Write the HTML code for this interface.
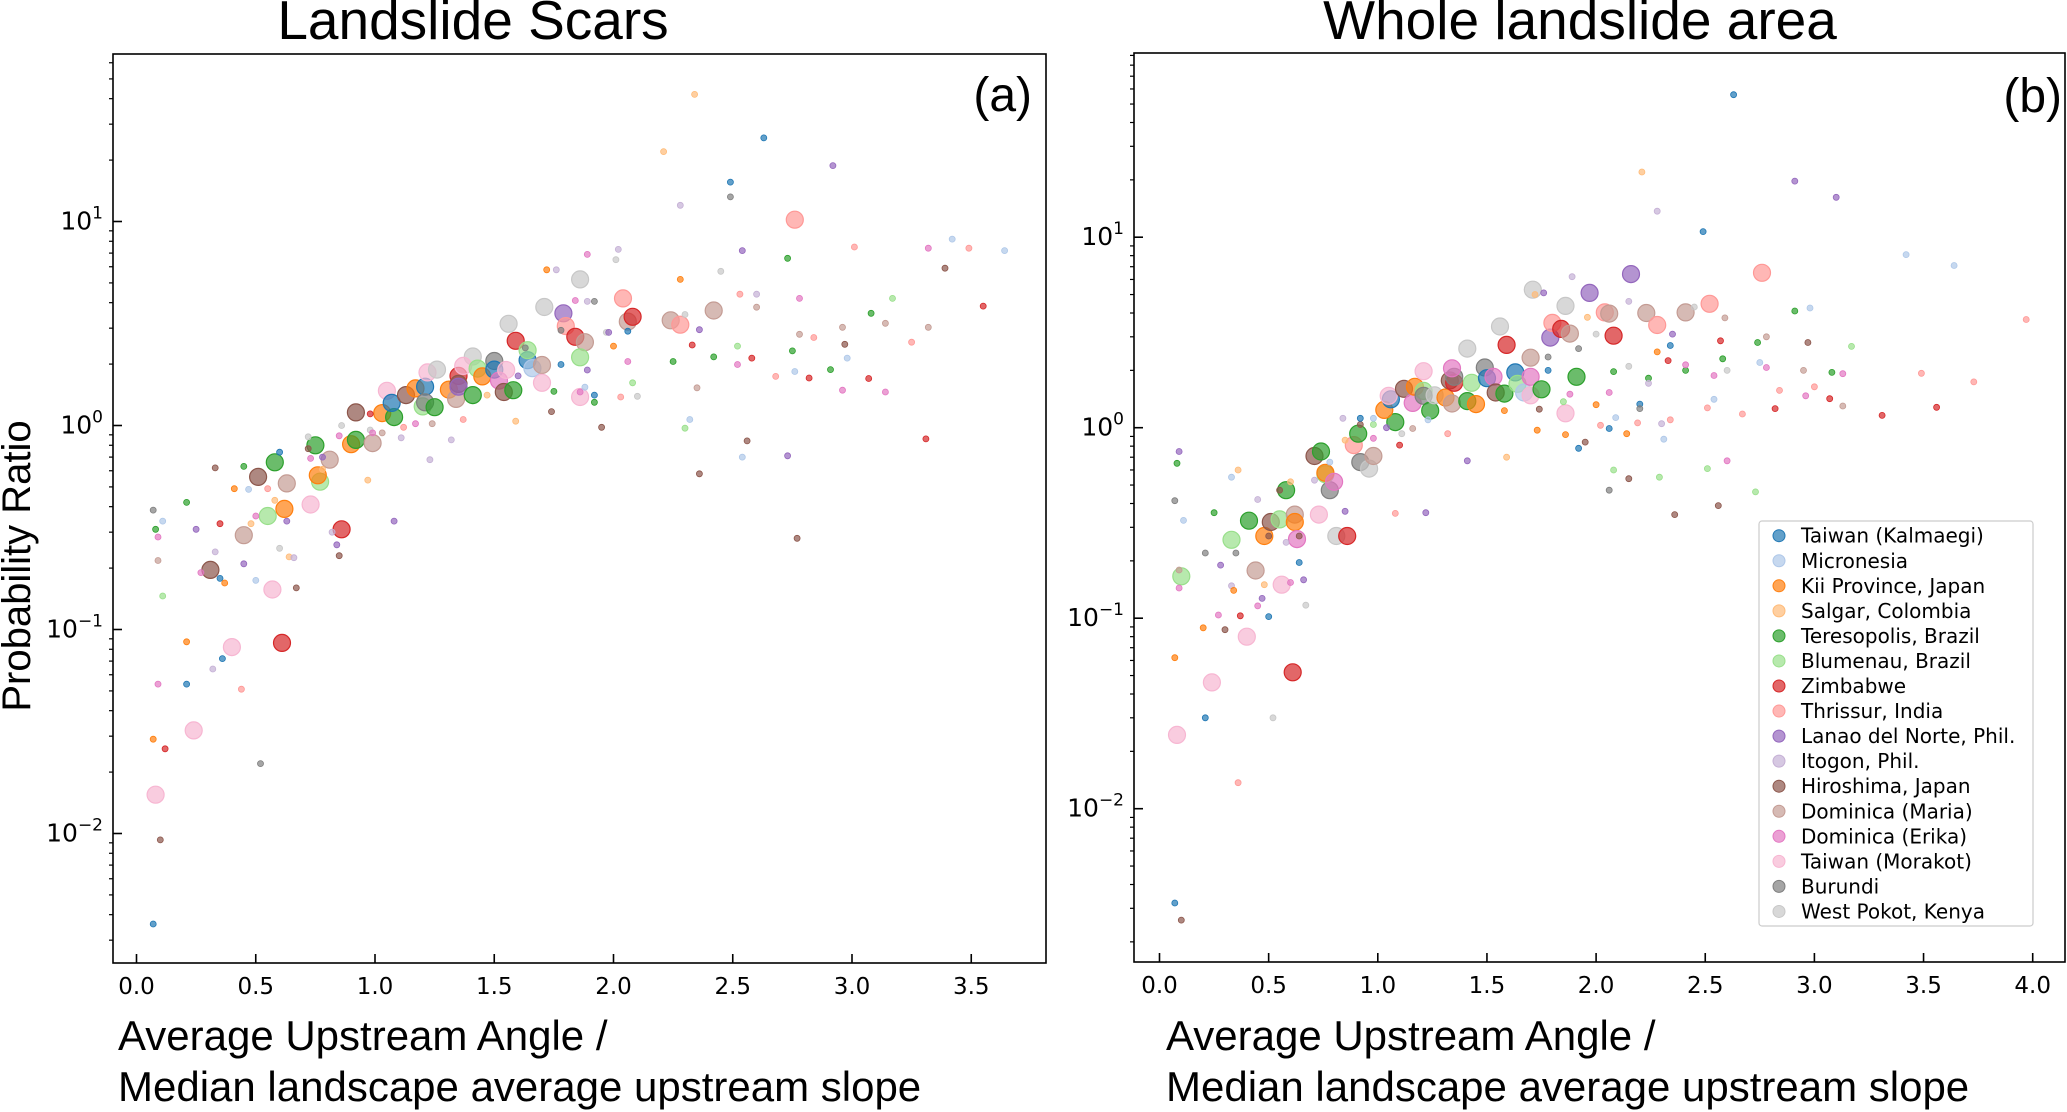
<!DOCTYPE html>
<html><head><meta charset="utf-8"><style>
html,body{margin:0;padding:0;background:#fff;}
svg{display:block;}
</style></head><body>
<svg id="chart" width="2067" height="1112" viewBox="0 0 2067 1112" xmlns="http://www.w3.org/2000/svg">
<text x="473" y="39" font-family="Liberation Sans, sans-serif" font-size="55" text-anchor="middle">Landslide Scars</text>
<text x="1580" y="39" font-family="Liberation Sans, sans-serif" font-size="55" text-anchor="middle">Whole landslide area</text>
<text transform="translate(30,566) rotate(-90)" font-family="Liberation Sans, sans-serif" font-size="40" text-anchor="middle">Probability Ratio</text>
<text font-family="Liberation Sans, sans-serif" font-size="42"><tspan x="118" y="1050">Average Upstream Angle /</tspan><tspan x="118" y="1101">Median landscape average upstream slope</tspan></text>
<text font-family="Liberation Sans, sans-serif" font-size="42"><tspan x="1166" y="1050">Average Upstream Angle /</tspan><tspan x="1166" y="1101">Median landscape average upstream slope</tspan></text>
<g id="pa"></g>
<g id="pb"></g>
<g id="legend"></g>
</svg>
<script>
const seriesNames=["Taiwan (Kalmaegi)","Micronesia","Kii Province, Japan","Salgar, Colombia","Teresopolis, Brazil","Blumenau, Brazil","Zimbabwe","Thrissur, India","Lanao del Norte, Phil.","Itogon, Phil.","Hiroshima, Japan","Dominica (Maria)","Dominica (Erika)","Taiwan (Morakot)","Burundi","West Pokot, Kenya"];
const seriesColors=["#1f77b4","#aec7e8","#ff7f0e","#ffbb78","#2ca02c","#98df8a","#d62728","#ff9896","#9467bd","#c5b0d5","#8c564b","#c49c94","#e377c2","#f7b6d2","#7f7f7f","#c7c7c7"];
const xTicksA=[0,0.5,1,1.5,2,2.5,3,3.5];
const xTicksB=[0,0.5,1,1.5,2,2.5,3,3.5,4];
const yDecadesA=[-2,-1,0,1];
const yDecadesB=[-2,-1,0,1];
// panel a points: series, x, y, big
const aS=[13,13,13,6,13,10,11,5,2,13,6,11,10,4,5,2,11,4,2,4,11,10,2,13,4,0,10,2,0,13,5,14,4,15,2,11,6,10,8,4,15,13,5,2,14,0,12,13,10,4,15,6,0,5,1,11,13,15,8,7,6,11,5,13,15,7,11,6,11,7,11,7,
0,10,6,2,12,0,2,14,7,9,0,5,11,12,4,14,1,4,8,9,12,0,2,6,10,2,1,4,8,1,3,12,7,0,8,15,3,9,10,3,10,15,12,8,3,9,8,10,15,12,3,15,6,12,11,9,7,12,8,9,11,7,9,
14,3,8,9,14,3,1,12,4,0,12,10,8,2,15,9,14,12,0,4,5,15,2,8,9,10,15,7,0,3,12,4,9,2,6,3,15,8,11,1,5,10,15,4,5,12,7,8,9,11,14,0,0,6,10,1,4,7,8,4,1,12,11,10,6,7,4,12,11,8,10,1,7,6,4,5,11,12,7,6,11,12,10,1,7,6,1];
const aX=[0.08,0.24,0.40,0.61,0.57,0.31,0.45,0.55,0.62,0.73,0.86,0.63,0.51,0.58,0.77,0.76,0.81,0.75,0.90,0.92,0.99,0.92,1.03,1.05,1.08,1.07,1.13,1.17,1.21,1.22,1.20,1.21,1.25,1.26,1.31,1.34,1.35,1.35,1.35,1.41,1.41,1.37,1.43,1.45,1.50,1.50,1.52,1.55,1.54,1.58,1.56,1.59,1.64,1.64,1.66,1.70,1.70,1.71,1.79,1.80,1.84,1.88,1.86,1.86,1.86,2.04,2.06,2.08,2.24,2.28,2.42,2.76,
0.07,0.10,0.12,0.07,0.09,0.21,0.21,0.52,0.44,0.32,0.36,0.11,0.09,0.09,0.08,0.07,0.11,0.21,0.25,0.33,0.27,0.35,0.37,0.35,0.33,0.41,0.47,0.45,0.45,0.50,0.48,0.50,0.55,0.60,0.63,0.60,0.64,0.66,0.67,0.58,0.72,0.72,0.73,0.78,0.78,0.82,0.84,0.85,0.86,0.85,0.97,0.98,0.98,0.99,1.03,1.11,1.12,1.17,1.08,1.23,1.24,1.37,1.32,
1.63,1.47,1.60,1.76,1.78,1.59,1.88,1.89,1.75,1.78,1.86,1.74,1.89,1.72,1.97,1.89,1.92,1.84,1.92,1.92,2.08,2.10,2.00,1.98,2.02,1.95,2.01,2.03,2.06,2.21,2.06,2.25,2.28,2.28,2.33,2.34,2.30,2.36,2.35,2.32,2.30,2.36,2.45,2.42,2.52,2.52,2.53,2.54,2.60,2.60,2.49,2.49,2.63,2.58,2.56,2.54,2.73,2.68,2.73,2.75,2.76,2.78,2.78,2.77,2.82,2.84,2.91,2.96,2.96,2.92,2.97,2.98,3.01,3.07,3.08,3.17,3.14,3.14,3.25,3.31,3.32,3.32,3.39,3.42,3.49,3.55,3.64];
const aY=[0.0155,0.032,0.082,0.086,0.157,0.196,0.29,0.36,0.39,0.41,0.31,0.52,0.56,0.66,0.53,0.57,0.68,0.80,0.81,0.85,0.82,1.16,1.15,1.48,1.10,1.29,1.41,1.52,1.55,1.82,1.24,1.30,1.23,1.88,1.50,1.35,1.75,1.60,1.55,1.41,2.18,1.96,1.90,1.74,2.07,1.88,1.66,1.87,1.46,1.49,3.15,2.60,2.09,2.34,1.91,1.98,1.62,3.81,3.55,3.07,2.72,2.56,2.16,1.38,5.2,4.2,3.23,3.41,3.28,3.12,3.66,10.2,
0.0036,0.0093,0.026,0.029,0.054,0.054,0.087,0.022,0.051,0.064,0.072,0.146,0.218,0.284,0.31,0.385,0.34,0.42,0.31,0.24,0.19,0.178,0.169,0.33,0.62,0.49,0.486,0.63,0.21,0.174,0.33,0.36,0.49,0.74,0.34,0.25,0.227,0.225,0.16,0.43,0.77,0.88,0.69,0.70,0.61,0.30,0.26,0.23,1.0,0.89,0.54,0.95,1.14,0.92,0.92,0.87,0.98,1.02,0.34,0.68,1.02,1.07,0.85,
2.4,1.41,1.75,5.8,2.93,1.05,1.54,6.9,1.47,1.99,1.46,1.17,1.87,5.8,2.86,4.06,4.06,4.1,1.41,1.30,1.62,1.39,2.45,2.86,7.3,0.98,6.5,1.38,2.9,22,2.06,2.06,12,5.2,2.48,42,3.5,2.95,1.53,1.07,0.97,0.58,5.7,2.17,2.45,1.99,4.4,7.2,4.4,3.8,13.2,15.6,25.7,2.14,0.84,0.70,6.6,1.74,0.71,2.32,1.84,4.2,2.8,0.28,1.71,2.7,1.88,1.49,3.03,18.8,2.5,2.14,7.5,1.70,3.55,4.2,3.17,1.46,2.56,0.86,3.03,7.4,5.9,8.2,7.4,3.85,7.2];
const aB=aX.map((v,i)=>i<72?1:0);
// panel b points
const bS=[13,13,13,6,13,11,5,5,4,2,10,5,11,2,12,4,13,15,6,14,5,2,12,10,4,14,15,11,7,4,4,2,0,13,10,12,2,5,14,4,13,15,2,11,10,6,14,12,4,2,5,15,14,0,12,10,4,15,6,0,5,1,12,13,11,4,8,15,7,6,11,15,13,4,8,7,11,6,8,11,7,11,7,7,
0,10,7,0,15,2,2,10,12,6,0,12,8,15,9,2,3,11,12,8,12,8,0,14,14,9,10,10,1,4,8,7,8,14,9,10,4,8,1,3,3,9,1,3,9,10,0,5,1,8,12,6,11,15,1,7,8,3,2,3,8,2,10,14,0,5,12,2,9,3,14,0,10,2,15,7,12,0,4,5,14,1,2,15,9,10,7,3,0,14,4,9,2,9,6,5,9,1,7,0,8,10,15,4,12,0,7,5,12,1,15,4,6,11,12,10,0,7,5,4,1,11,12,6,7,4,8,11,12,1,10,7,6,4,12,11,8,5,6,7,1,6,1,7,7];
const bX=[0.08,0.24,0.40,0.61,0.56,0.44,0.10,0.33,0.41,0.48,0.51,0.55,0.62,0.62,0.63,0.58,0.73,0.81,0.86,0.78,0.76,0.76,0.80,0.71,0.74,0.92,0.96,0.98,0.89,0.91,1.08,1.03,1.06,1.05,1.12,1.16,1.17,1.21,1.21,1.24,1.21,1.26,1.31,1.34,1.33,1.35,1.35,1.34,1.41,1.45,1.43,1.41,1.49,1.50,1.53,1.54,1.58,1.56,1.59,1.63,1.64,1.67,1.70,1.70,1.70,1.75,1.79,1.71,1.80,1.84,1.88,1.86,1.86,1.91,1.97,2.04,2.06,2.08,2.16,2.23,2.28,2.41,2.52,2.76,
0.07,0.10,0.36,0.21,0.52,0.07,0.20,0.30,0.27,0.37,0.50,0.45,0.47,0.67,0.33,0.34,0.48,0.09,0.09,0.66,0.60,0.28,0.64,0.21,0.35,0.58,0.64,0.50,0.11,0.25,0.85,1.08,1.22,0.07,0.45,0.55,0.08,0.09,0.33,0.36,0.60,0.71,0.78,0.85,0.84,0.92,0.92,0.98,0.98,1.04,0.98,1.10,1.16,1.11,1.23,1.32,1.41,1.59,1.58,1.72,1.76,1.73,1.74,1.78,1.78,1.85,1.88,1.86,1.89,1.96,1.92,1.92,1.95,2.00,2.00,2.02,2.06,2.06,2.08,2.08,2.06,2.09,2.14,2.15,2.15,2.15,2.19,2.21,2.20,2.20,2.24,2.24,2.28,2.28,2.33,2.29,2.30,2.31,2.34,2.34,2.35,2.36,2.45,2.41,2.41,2.49,2.51,2.51,2.54,2.54,2.60,2.58,2.57,2.59,2.60,2.56,2.63,2.67,2.73,2.74,2.75,2.78,2.78,2.82,2.84,2.91,2.91,2.95,2.96,2.98,2.97,3.00,3.07,3.08,3.13,3.13,3.10,3.17,3.31,3.49,3.42,3.56,3.64,3.73,3.97];
const bY=[0.0244,0.046,0.080,0.052,0.150,0.178,0.166,0.258,0.325,0.27,0.32,0.33,0.35,0.32,0.26,0.47,0.35,0.27,0.27,0.47,0.57,0.58,0.52,0.71,0.75,0.66,0.61,0.71,0.81,0.93,1.07,1.24,1.41,1.47,1.60,1.35,1.64,1.56,1.47,1.23,1.98,1.48,1.44,1.34,1.77,1.72,1.85,2.05,1.38,1.33,1.72,2.6,2.07,1.82,1.85,1.53,1.51,3.4,2.72,1.95,1.70,1.53,1.85,1.48,2.33,1.59,2.97,5.3,3.55,3.3,3.12,4.36,1.19,1.85,5.1,4.03,3.97,3.04,6.4,4.0,3.46,4.03,4.47,6.5,
0.0032,0.0026,0.0137,0.030,0.030,0.062,0.089,0.087,0.104,0.103,0.102,0.116,0.127,0.117,0.148,0.14,0.15,0.179,0.144,0.159,0.154,0.19,0.196,0.22,0.22,0.25,0.27,0.27,0.326,0.358,0.364,0.355,0.358,0.414,0.42,0.47,0.65,0.75,0.55,0.60,0.52,0.53,0.66,0.86,1.12,1.04,1.12,1.04,1.12,1.0,0.88,0.81,0.99,0.93,1.1,0.93,0.67,0.70,1.23,5.0,5.1,0.97,1.25,2.35,2.0,1.37,1.5,0.92,6.2,3.8,2.6,0.78,0.84,1.32,3.1,1.03,1.53,0.99,1.97,0.60,0.47,1.13,0.93,2.1,4.6,0.54,1.06,22,1.33,1.26,1.82,1.71,2.5,13.7,2.25,0.55,1.05,0.87,1.1,2.7,3.1,0.35,4.3,2.0,2.14,10.7,1.27,0.61,1.88,1.41,2.0,2.3,2.86,3.77,0.67,0.39,56,1.18,0.46,2.8,2.2,3.0,2.07,1.26,1.57,4.1,19.7,2.0,1.47,4.25,2.8,1.64,1.42,1.95,1.92,1.30,16.2,2.67,1.16,1.93,8.1,1.28,7.1,1.74,3.7];
const bB=bX.map((v,i)=>i<84?1:0);

const NS="http://www.w3.org/2000/svg";
function mk(parent,tag,attrs){const e=document.createElementNS(NS,tag);for(const k in attrs)e.setAttribute(k,attrs[k]);parent.appendChild(e);return e;}
const MINOR_LOGS=[2,3,4,5,6,7,8,9].map(m=>Math.log10(m));

function drawPanel(g,cfg,S,X,Y,B,xTicks,decades,pname){
  const L=cfg.left,R=cfg.right,T=cfg.top,Bo=cfg.bottom;
  const xs=v=>cfg.x0px+v*cfg.xu;
  const ys=v=>cfg.y0px-Math.log10(v)*cfg.yd;
  const dot=document.createElementNS(NS,'g');
  
  
  g.appendChild(dot);
  X.forEach((v,i)=>{
    const c=seriesColors[S[i]];
    const el=mk(dot,'circle',{cx:xs(X[i]).toFixed(1),cy:ys(Y[i]).toFixed(1),r:B[i]?8.5:3,fill:c,'fill-opacity':0.7,stroke:c,'stroke-width':B[i]?1.2:0.8});
    
    
  });
  const frame=mk(g,'rect',{x:L,y:T,width:R-L,height:Bo-T,fill:'none',stroke:'#000','stroke-width':1.6});
  
  
  xTicks.forEach(t=>{
    const x=xs(t);
    const tk=mk(g,'line',{x1:x,x2:x,y1:Bo,y2:Bo-9,stroke:'#000','stroke-width':1.6});
    
    
    const lb=mk(g,'text',{x:x,y:Bo+31,'font-family':'DejaVu Sans, sans-serif','font-size':23,'text-anchor':'middle'});
    lb.textContent=t.toFixed(1);
    
    
  });
  const lo=Math.floor((cfg.y0px-Bo)/cfg.yd)-1, hi=Math.ceil((cfg.y0px-T)/cfg.yd)+1;
  for(let d=lo;d<=hi;d++){
    MINOR_LOGS.forEach(m=>{
      const y=cfg.y0px-(d+m)*cfg.yd;
      if(y<T||y>Bo)return;
      const mt=mk(g,'line',{x1:L,x2:L-4,y1:y,y2:y,stroke:'#000','stroke-width':1.2});
      
      
    });
  }
  decades.forEach(d=>{
    const y=cfg.y0px-d*cfg.yd;
    const tk=mk(g,'line',{x1:L,x2:L+9,y1:y,y2:y,stroke:'#000','stroke-width':1.6});
    
    
    const lb=mk(g,'text',{x:L-10,y:y+8,'font-family':'DejaVu Sans, sans-serif','font-size':25,'text-anchor':'end'});
    
    
    const t1=mk(lb,'tspan',{});t1.textContent='10';
    const t2=mk(lb,'tspan',{dy:-11,'font-size':17});t2.textContent=(d<0?'\u2212':'')+Math.abs(d);
  });
  const pl=mk(g,'text',{x:cfg.labX,y:cfg.labY,'font-family':'Liberation Sans, sans-serif','font-size':48,'text-anchor':'end'});
  pl.textContent=cfg.lab;
  
  
}
drawPanel(document.getElementById('pa'),{left:113,right:1046,top:54,bottom:963,x0px:136.5,xu:238.5,y0px:425.5,yd:204,labX:1032,labY:111,lab:'(a)'},aS,aX,aY,aB,xTicksA,yDecadesA,'panel-a');
drawPanel(document.getElementById('pb'),{left:1134,right:2065,top:53,bottom:962,x0px:1159.5,xu:218.3,y0px:427.7,yd:190.5,labX:2062,labY:112,lab:'(b)'},bS,bX,bY,bB,xTicksB,yDecadesB,'panel-b');

const lg=document.getElementById('legend');
const box=mk(lg,'rect',{x:1759,y:521,width:274,height:405,rx:3,fill:'#fff','fill-opacity':0.85,stroke:'#ccc','stroke-width':1.2});


seriesNames.forEach((n,i)=>{
  const y=535.7+i*25.05;
  const c=mk(lg,'circle',{cx:1779,cy:y,r:6,fill:seriesColors[i],'fill-opacity':0.7,stroke:seriesColors[i],'stroke-width':1});
  
  
  const t=mk(lg,'text',{x:1801,y:y+7,'font-family':'DejaVu Sans, sans-serif','font-size':20});
  t.textContent=n;
  
  
});
</script>
</body></html>
